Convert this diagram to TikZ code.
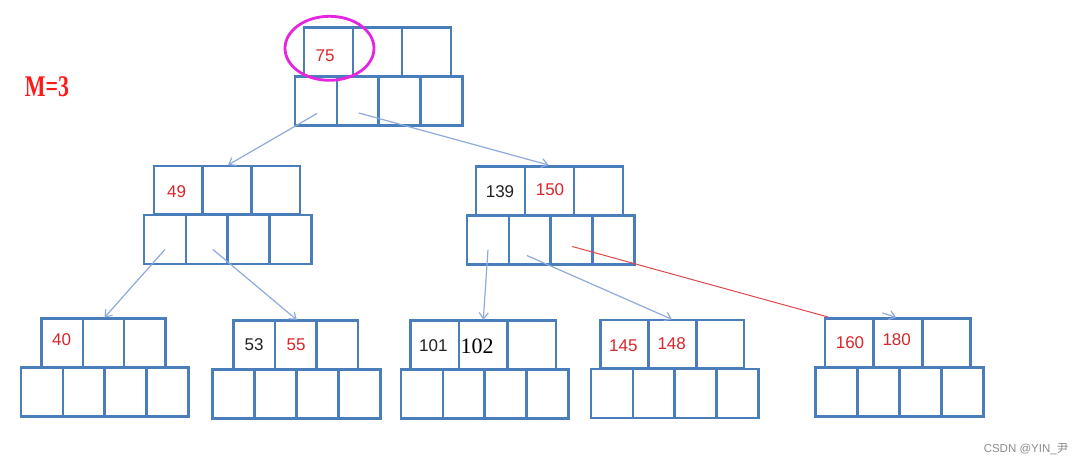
\documentclass[tikz,border=0pt]{standalone}
\usepackage{fontspec}
\setmainfont{Liberation Sans}
\newfontfamily\serifnum{Liberation Serif}
\newfontfamily\cjkfont{Noto Sans CJK SC}
\usetikzlibrary{arrows.meta,shapes.geometric}
\definecolor{boxblue}{HTML}{4A7EBB}
\definecolor{connblue}{HTML}{8FAADC}
\definecolor{keyred}{HTML}{D9262B}
\definecolor{keyblack}{HTML}{222222}
\definecolor{ringmag}{HTML}{E526E0}
\definecolor{mred}{HTML}{FF1A1A}
\tikzset{
  cell/.style={draw=boxblue, line width=2.7pt, inner sep=0pt, outer sep=0pt, fill=none},
  conn/.style={draw=connblue, line width=1.2pt, -{Straight Barb[length=6pt,width=9pt]}},
  redconn/.style={draw=keyred!85, line width=1pt},
  keyr/.style={text=keyred, font=\fontsize{17}{18}\selectfont, inner sep=0pt},
  keyk/.style={text=keyblack, font=\fontsize{17}{18}\selectfont, inner sep=0pt},
}
% #1 name, #2 top-row left x, #3 top y, #4 top cell width, #5 bottom-row left x
\newcommand\btnode[5]{%
  \foreach \i in {1,2,3}{
    \node[cell, minimum width=#4, minimum height=48.5, anchor=north west]
      (#1-k\i) at ({#2+(\i-1)*#4},#3) {};
  }
  \foreach \i in {1,2,3,4}{
    \node[cell, minimum width=41.9, minimum height=49, anchor=north west]
      (#1-p\i) at ({#5+(\i-1)*41.9},{#3+49}) {};
  }
}
\begin{document}
\begin{tikzpicture}[x=1pt,y=-1pt]
\fill[white] (0,0) rectangle (1084,464);
\useasboundingbox (0,0) rectangle (1084,464);

% nodes
\btnode{r}{304}{27.5}{49}{295}
\btnode{n2}{154}{166}{48.7}{144}
\btnode{n3}{476}{166.5}{49}{467}
\btnode{l1}{41.7}{318.5}{41.2}{21}
\btnode{l2}{233.5}{320.5}{41.5}{212.7}
\btnode{l3}{410.7}{320.5}{48.4}{401}
\btnode{l4}{600.7}{320}{47.8}{591}
\btnode{l5}{825}{318.5}{48.6}{815.7}

% keys
\node[keyr] (t75) at (325,56) {75};
\node[keyr] (t49) at (176.7,191.7) {49};
\node[keyk] (t139) at (500,191.7) {139};
\node[keyr] (t150) at (550,189.5) {150};
\node[keyr] (t40) at (61.7,339.3) {40};
\node[keyk] (t53) at (254,345) {53};
\node[keyr] (t55) at (296,345) {55};
\node[keyk] (t101) at (433.3,345.7) {101};
\node[text=black, font=\serifnum\fontsize{22}{24}\selectfont, inner sep=0pt] (t102) at (477,346.7) {102};
\node[keyr] (t145) at (623.3,345.7) {145};
\node[keyr] (t148) at (671.7,343.3) {148};
\node[keyr] (t160) at (850,342.3) {160};
\node[keyr] (t180) at (896.7,340) {180};

% highlight ring
\node[draw=ringmag, line width=2.8pt, ellipse, minimum width=89, minimum height=64, inner sep=0pt] (ring) at (329.5,48.3) {};

% M=3
\node[text=mred, font=\serifnum\bfseries\fontsize{30}{32}\selectfont, inner sep=0pt] (mlabel) at (47,87) {\scalebox{0.73}[1]{M=3}};

% connectors
\draw[conn] ([shift={(1,12.5)}]r-p1.center) -- ([shift={(1,-1)}]n2-k2.north);
\draw[conn] ([shift={(1,12)}]r-p2.center) -- ([shift={(-1,-1.5)}]n3-k2.north);
\draw[conn] ([shift={(0,10)}]n2-p1.center) -- ([shift={(1,-1)}]l1-k2.north);
\draw[conn] ([shift={(6,10)}]n2-p2.center) -- ([shift={(1,-0.7)}]l2-k2.north);
\draw[conn] ([shift={(0,10)}]n3-p1.center) -- ([shift={(0,-0.7)}]l3-k2.north);
\draw[conn] ([shift={(-3,15.5)}]n3-p2.center) -- ([shift={(-0.5,-0.7)}]l4-k2.north);
\draw[redconn] ([shift={(0.5,6.5)}]n3-p3.center) -- ([shift={(3,-1.5)}]l5-k1.north west);
\coordinate (stub) at ([shift={(-15.5,-5.6)}]l5-k2.north);
\draw[conn] (stub) -- ([shift={(-1.7,-1)}]l5-k2.north);

% watermark
\node[text=black!45, font=\fontsize{11.5}{12}\selectfont, inner sep=0pt] (wm) at (1026,449) {CSDN @YIN\_{\cjkfont 尹}};
\end{tikzpicture}
\end{document}
